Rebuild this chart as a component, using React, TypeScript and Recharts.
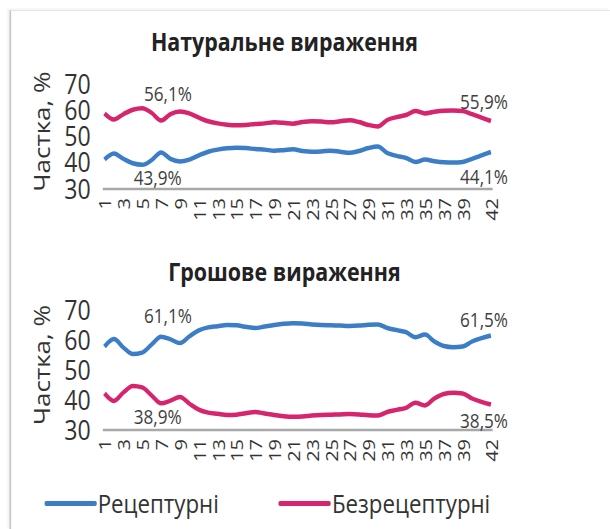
import React from 'react';
import { LineChart, Line, XAxis, YAxis, LabelList } from 'recharts';

const weeks = [1, 2, 3, 4, 5, 6, 7, 8, 9, 10, 11, 12, 13, 14, 15, 16, 17, 18, 19, 20, 21, 22, 23, 24, 25, 26, 27, 28, 29, 30, 31, 32, 33, 34, 35, 36, 37, 38, 39, 40, 41, 42];
const weekTicks = [1, 3, 5, 7, 9, 11, 13, 15, 17, 19, 21, 23, 25, 27, 29, 31, 33, 35, 37, 39, 42];
const shareTicks = [30, 40, 50, 60, 70];

const seriesNames = ['Рецептурні', 'Безрецептурні'];
const chartTitles = ['Натуральне вираження', 'Грошове вираження'];
const axisTitle = 'Частка, %';

// натуральне вираження
const natRx = [41.2, 43.5, 41.5, 39.8, 39.2, 41.0, 43.9, 41.5, 40.5, 41.2, 42.8, 44.2, 45.0, 45.5, 45.7, 45.6, 45.2, 45.0, 44.6, 44.8, 45.1, 44.5, 44.2, 44.3, 44.6, 44.2, 43.8, 44.5, 45.6, 46.2, 43.7, 42.6, 41.8, 40.3, 41.2, 40.6, 40.2, 40.1, 40.3, 41.5, 42.8, 44.1];
const natOtc = [58.8, 56.5, 58.5, 60.2, 60.8, 59.0, 56.1, 58.5, 59.5, 58.8, 57.2, 55.8, 55.0, 54.5, 54.3, 54.4, 54.8, 55.0, 55.4, 55.2, 54.9, 55.5, 55.8, 55.7, 55.4, 55.8, 56.2, 55.5, 54.4, 53.8, 56.3, 57.4, 58.2, 59.7, 58.8, 59.4, 59.8, 59.9, 59.7, 58.5, 57.2, 55.9];

// грошове вираження
const monRx = [57.8, 60.3, 57.5, 55.3, 55.8, 58.5, 61.1, 60.2, 59.0, 61.2, 63.2, 64.2, 64.6, 65.0, 64.9, 64.4, 64.0, 64.5, 65.0, 65.4, 65.6, 65.5, 65.2, 65.0, 64.9, 64.8, 64.7, 64.8, 65.1, 65.2, 64.0, 63.3, 62.6, 60.9, 61.8, 59.5, 58.0, 57.6, 57.8, 59.5, 60.6, 61.5];
const monOtc = [42.2, 39.7, 42.5, 44.7, 44.2, 41.5, 38.9, 39.8, 41.0, 38.8, 36.8, 35.8, 35.4, 35.0, 35.1, 35.6, 36.0, 35.5, 35.0, 34.6, 34.4, 34.5, 34.8, 35.0, 35.1, 35.2, 35.3, 35.2, 34.9, 34.8, 36.0, 36.7, 37.4, 39.1, 38.2, 40.5, 42.0, 42.4, 42.2, 40.5, 39.4, 38.5];

const labeledWeeks = [7, 42];

const BLUE = '#3c7dc8';
const PINK = '#d6246d';
const FONT = '"Open Sans", sans-serif';
// the source picture is horizontally condensed: lay out at 712px and squeeze to 610px
const W = 712;
const SQUEEZE = 610 / W;

const natData = weeks.map((w, i) => ({ week: w, rx: natRx[i], otc: natOtc[i] }));
const monData = weeks.map((w, i) => ({ week: w, rx: monRx[i], otc: monOtc[i] }));

const fmt = (v: number) => v.toFixed(1).replace('.', ',') + '%';

function WeekTick({ x, y, payload }: any) {
  return (
    <text
      x={x}
      y={y}
      transform={`rotate(-90 ${x} ${y})`}
      textAnchor="end"
      dominantBaseline="central"
      fontSize={20}
      fontFamily={FONT}
      fill="#333"
    >
      {payload.value}
    </text>
  );
}

function makeLabel(above: boolean, gap: number, gapEnd: number) {
  return (props: any) => {
    const { x, y, value, index } = props;
    const w = weeks[index];
    if (!labeledWeeks.includes(w)) return null;
    const last = w === weeks[weeks.length - 1];
    const dx = last ? -8 : above ? 8 : -4;
    const g = last ? gapEnd : gap;
    return (
      <text
        x={x + dx}
        y={above ? y - g : y + g}
        textAnchor="middle"
        dominantBaseline="central"
        fontSize={20}
        fontFamily={FONT}
        fill="#404040"
      >
        {fmt(value)}
      </text>
    );
  };
}

function ShareChart({ data, height, marginTop, marginBottom, upperKey, gaps }: any) {
  const g = (key: string) => (upperKey === key ? [gaps[0], gaps[2]] : [gaps[1], gaps[3]]);
  return (
    <div style={{ position: 'absolute', left: 0, top: 0 }}>
      <LineChart width={W} height={height} data={data} margin={{ top: marginTop, right: W - 575, bottom: marginBottom, left: 0 }}>
        <XAxis
          dataKey="week"
          ticks={weekTicks}
          interval={0}
          tick={<WeekTick />}
          tickLine={false}
          tickSize={0}
          tickMargin={9}
          height={40}
          padding={{ left: 2, right: 2 }}
          axisLine={{ stroke: '#a8a8a8', strokeWidth: 2.5 }}
        />
        <YAxis
          domain={[30, 70]}
          ticks={shareTicks}
          interval={0}
          width={120}
          axisLine={false}
          tickLine={false}
          tickMargin={8}
          tick={{ fontSize: 27, fill: '#333', fontFamily: FONT }}
          label={{
            content: ({ viewBox }: any) => {
              const cx = viewBox.x + 48;
              const cy = viewBox.y + viewBox.height / 2 - 5;
              return (
                <text x={cx} y={cy} transform={`rotate(-90 ${cx} ${cy})`} textAnchor="middle" dominantBaseline="central" fontSize={26} fontFamily={FONT} fill="#333">
                  {axisTitle}
                </text>
              );
            },
          }}
        />
        <Line dataKey="rx" name={seriesNames[0]} stroke={BLUE} strokeWidth={4.5} dot={false} type="monotone" isAnimationActive={false}>
          <LabelList dataKey="rx" content={makeLabel(upperKey === 'rx', g('rx')[0], g('rx')[1])} />
        </Line>
        <Line dataKey="otc" name={seriesNames[1]} stroke={PINK} strokeWidth={4.5} dot={false} type="monotone" isAnimationActive={false}>
          <LabelList dataKey="otc" content={makeLabel(upperKey === 'otc', g('otc')[0], g('otc')[1])} />
        </Line>
      </LineChart>
    </div>
  );
}

export default function App() {
  return (
    <div style={{ position: 'absolute', left: 0, top: 0, width: 610, height: 529, background: '#fff', overflow: 'hidden' }}>
      <div style={{ position: 'absolute', left: 0, top: 0, width: W, height: 529, transform: `scaleX(${SQUEEZE})`, transformOrigin: '0 0', fontFamily: FONT }}>
        <div style={{ position: 'absolute', left: 11, top: 10, right: 0, bottom: 0, borderLeft: '2px solid #c6c6c6', borderTop: '1px solid #e6e6e6', boxShadow: '-2px -1px 3px rgba(0,0,0,0.08)' }} />
        <div style={{ position: 'absolute', left: 0, width: 664, top: 24, textAlign: 'center', fontSize: 25, fontWeight: 700, color: '#222' }}>{chartTitles[0]}</div>
        <div style={{ position: 'absolute', left: 0, width: 664, top: 254, textAlign: 'center', fontSize: 25, fontWeight: 700, color: '#222' }}>{chartTitles[1]}</div>
        <ShareChart data={natData} height={240} marginTop={84} marginBottom={11} upperKey="otc" gaps={[28, 24, 20, 24]} />
        <ShareChart data={monData} height={529} marginTop={310} marginBottom={59} upperKey="rx" gaps={[22, 13, 17, 15]} />
        <div style={{ position: 'absolute', left: 52, top: 485, display: 'flex', alignItems: 'center', fontSize: 26, color: '#333' }}>
          <span style={{ display: 'inline-block', width: 61, height: 5, background: BLUE, borderRadius: 2 }} />
          <span style={{ marginLeft: 1 }}>{seriesNames[0]}</span>
          <span style={{ display: 'inline-block', width: 61, height: 5, background: PINK, borderRadius: 2, marginLeft: 70 }} />
          <span style={{ marginLeft: 1 }}>{seriesNames[1]}</span>
        </div>
      </div>
    </div>
  );
}
